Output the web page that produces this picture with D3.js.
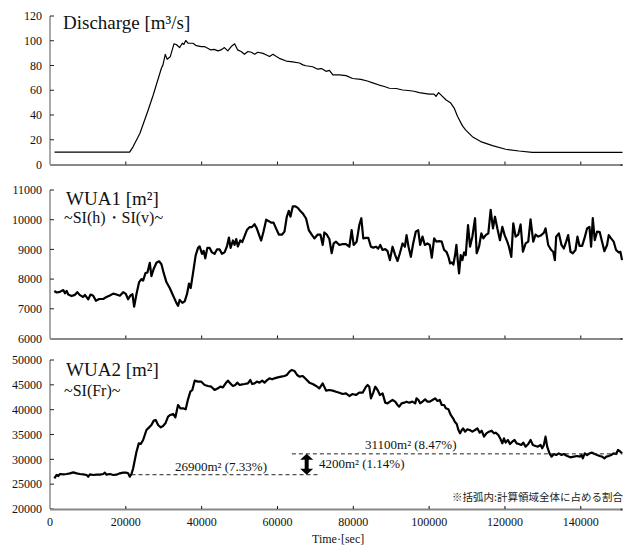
<!DOCTYPE html>
<html><head><meta charset="utf-8">
<script src="https://cdn.jsdelivr.net/npm/d3@7"></script>
<style>
html,body{margin:0;padding:0;background:#fff;}
svg{display:block;}
</style></head>
<body>
<svg id="c" width="629" height="547"></svg>
<script>
// ---------- DATA ----------
const xTicks = [20000, 40000, 60000, 80000, 100000, 120000, 140000];
const xTickLabels = [0, 20000, 40000, 60000, 80000, 100000, 120000, 140000];
const qTicks = [0, 20, 40, 60, 80, 100, 120];
const w1Ticks = [6000, 7000, 8000, 9000, 10000, 11000];
const w2Ticks = [20000, 25000, 30000, 35000, 40000, 45000, 50000];

// Discharge [m3/s]: [time sec, value]
const discharge = [[1200,10],[21000,10],[21900,14.3],[23700,25],[25900,44],[27200,56],[29400,78],[29800,80.5],[30400,89],[30900,85],[31700,87],[32700,97.5],[33300,97],[34200,94.5],[34900,98],[35300,97],[35800,100.2],[36400,98],[37700,98],[38600,96],[39900,95.3],[40700,95.3],[41600,94],[42400,92.6],[43300,93],[44300,91.8],[45100,92.6],[46000,94.5],[46900,91.8],[47800,95.3],[48700,97.5],[49500,92.6],[50400,91.3],[51300,89.1],[52200,91.3],[53100,90.7],[54000,89.1],[54800,90.7],[56200,89.8],[57100,88.5],[57900,87.2],[58800,89],[59700,87.2],[60500,85.8],[62300,83.6],[64000,83],[65800,82],[66700,80.5],[67500,79.8],[69300,79],[70600,77],[71600,77.5],[72800,75.3],[73700,76],[74600,72.4],[76300,72.4],[78100,71.8],[79800,69.5],[82000,68.8],[83700,67.5],[85300,65.8],[86800,64.2],[88200,63],[89500,61.6],[91300,61.4],[93000,60.2],[94500,59.8],[96000,59.2],[97400,58.1],[98700,57.5],[100000,56.8],[101300,56.8],[101800,55],[102500,58.1],[103500,55],[104400,52.3],[105700,49.6],[106600,45.6],[107500,38.8],[108800,31.2],[109600,28],[111400,22.5],[113600,18.5],[116700,15.2],[120200,12.3],[123700,10.9],[127200,9.8],[151000,9.8]];

// WUA1 [m2]
const wua1 = [[1140,7600],[1750,7550],[2630,7570],[3510,7630],[3950,7520],[4390,7600],[4820,7480],[5700,7430],[6580,7470],[7190,7560],[7890,7460],[8770,7400],[9210,7470],[10090,7320],[10700,7480],[11400,7440],[12110,7270],[12980,7330],[14040,7330],[14910,7400],[15790,7450],[16670,7510],[17540,7480],[18420,7440],[19300,7560],[20000,7500],[20610,7320],[21230,7450],[21750,7490],[22190,7070],[22810,7500],[23510,7900],[24120,8000],[24560,7950],[25180,8200],[25700,8220],[26320,8550],[26750,8100],[27370,8350],[28070,8550],[28770,8600],[29390,8500],[30000,8200],[30700,7900],[31580,7700],[32460,7450],[33330,7200],[33770,7100],[34210,7300],[34910,7200],[35530,7250],[36140,7500],[36670,7850],[37110,7700],[37720,8200],[38420,8800],[39040,9050],[39470,9100],[40090,8850],[40530,8950],[40960,8700],[41490,9050],[42110,9050],[42720,8900],[43420,8850],[44040,9000],[44740,9000],[45350,8850],[46050,8900],[46670,9100],[47190,9400],[47630,9050],[48250,9300],[48680,9150],[49120,9350],[49560,9100],[50180,9300],[50700,9250],[51320,9450],[51930,9650],[52630,9750],[53250,9750],[53950,9850],[54560,9700],[55260,9450],[55700,9300],[56320,9600],[57020,10000],[57720,9950],[58330,9900],[58950,9900],[59650,9700],[60350,9500],[61230,9500],[61840,9600],[62460,10100],[62980,10300],[63420,10100],[64040,10450],[64740,10450],[65350,10400],
[65790,10330],[66670,10210],[67540,10040],[68250,9650],[69120,9480],[69740,9370],[70610,9500],[71320,9500],[71930,9150],[72370,9570],[72980,9500],[73680,9350],[74300,8870],[74820,9200],[75440,9260],[76320,9150],[77190,9180],[78070,9180],[78950,9090],[79560,9650],[80090,9150],[80880,9260],[81580,9820],[82110,10050],[82630,9370],[83330,9390],[83950,9390],[84650,9090],[85260,9060],[85960,9090],[86580,9030],[87110,9150],[87720,8980],[88420,9010],[89040,8940],[89650,8640],[90350,9090],[91050,8810],[91670,8610],[92280,8870],[92980,9200],[93600,9090],[94040,9480],[94560,9090],[95180,8750],[95790,9200],[96490,9600],[97110,9650],[97630,9150],[98250,9430],[98860,9150],[99560,9200],[100180,9150],[100700,8720],[101320,9370],[101930,9260],[102630,9280],[103330,9260],[103950,8980],[104560,8920],[105090,8750],[105530,8530],[105970,8560],[106400,8490],[106840,8810],[107190,9150],[107540,8640],[107890,8190],[108330,8810],[108770,8640],[109210,8900],[109650,8810],[110260,9820],[110790,9090],[111400,9430],[112110,10050],[112540,8870],[113160,9090],[113770,9540],[114300,9370],[114910,9480],[115610,9540],[116230,10330],[116840,9710],[117370,10100],[117980,9710],[118680,9310],[119300,9760],[119910,9480],[120610,9260],[121050,9090],[121670,8750],[122190,9880],[122810,9430],[123510,9500],[124120,9840],[124740,8920],[125440,9200],[126140,9260],[126750,10010],[127460,9260],[128070,9500],[128770,9430],[129560,9480],[130260,9560],[130700,9710],[131400,9150],[132190,8980],[132720,8920],[133160,8640],[133510,9430],[134210,9540],[134910,9150],[135530,9030],[136140,9260],[136670,9480],[137280,8920],[137890,8870],[138600,8980],[139120,9430],[139650,9120],[140350,9120],[140960,9370],[141670,9710],[142280,9760],[142720,9090],[143160,10050],[143680,9310],[144300,9600],[145000,9580],[145610,9260],[146230,8940],[146930,9150],[147370,9480],[147980,9370],[148680,9260],[149300,8980],[150000,8900],[150440,8920],[150880,8640]];

// WUA2 [m2]
const wua2 = [[1140,26170],[1750,26850],[2190,26640],[2630,27050],[3510,26980],[4390,27050],[5260,27180],[6140,27380],[7020,27180],[7890,27050],[8770,26980],[9650,26850],[10090,26510],[10530,26980],[11400,26850],[12280,26910],[13160,26910],[14040,27050],[14470,27320],[14910,26910],[15790,27050],[16670,26850],[17540,26910],[18420,27180],[19300,27320],[20180,27320],[20610,27180],[21050,26510],[21490,27050],[21930,28190],[22370,29870],[22810,31540],[23420,33220],[23950,33090],[24560,33890],[25000,34900],[25440,35910],[26140,36440],[26750,36910],[27370,37790],[27890,37920],[28510,36910],[29210,36440],[29820,36710],[30440,37250],[31140,38590],[31750,38930],[32460,39130],[33070,38460],[33770,40940],[34390,40270],[35090,40270],[35790,40070],[36400,42080],[37020,43620],[37540,43960],[38160,45840],[39040,45640],[39910,45640],[40790,44970],[41670,44770],[42540,44630],[43420,43960],[44300,44300],[44910,44630],[45610,44500],[46320,45300],[46930,45840],[47540,45300],[48250,44770],[48860,44970],[49390,45440],[50000,44970],[50700,45100],[51320,45170],[52190,45300],[52810,45970],[53330,45170],[53950,45300],[54560,45640],[55260,45440],[55970,45840],[56580,45440],[57280,45970],[57890,46310],[58600,46110],[59210,46310],[60090,46510],[60970,46640],[61840,46780],[62460,46980],[63160,47650],[63770,47990],[64470,47790],[65180,46980],[65790,46640],
[66670,46780],[67540,46110],[68420,45440],[69300,45170],[70180,44770],[71050,44300],[71930,45300],[72810,43830],[73680,43960],[74560,43830],[75440,43620],[76320,43420],[77190,43150],[78070,43290],[78950,42750],[79820,43150],[80700,42950],[81580,43420],[82460,43420],[83330,44630],[83770,44970],[84210,44630],[84650,42280],[85260,43420],[85790,44630],[86400,43960],[87020,42950],[87720,43290],[88420,41410],[89040,41270],[89650,41610],[90350,41950],[91050,41610],[91670,40940],[92110,40600],[92720,41270],[93420,41410],[94040,41610],[94740,41410],[95610,41610],[96320,41270],[96670,42280],[97190,41950],[97630,41270],[98250,41610],[98950,42080],[99560,41610],[100180,41610],[100880,41950],[101580,42280],[102190,41750],[102810,41950],[103330,40940],[103950,40940],[104390,40270],[105090,40070],[105700,38930],[106320,38260],[106760,37580],[107280,37110],[107720,35910],[108160,35230],[108510,35770],[108950,36240],[109470,35570],[110090,36040],[110700,35910],[111400,35570],[112110,35910],[112720,36240],[113330,35370],[113860,35770],[114470,34560],[115090,35230],[115790,35570],[116490,35770],[117110,35230],[117540,35370],[118250,34900],[118860,34030],[119300,33220],[119740,34230],[120180,33360],[120790,33890],[121320,33090],[121930,33560],[122540,33890],[123070,33220],[123680,33090],[124300,32890],[124820,33360],[125440,32550],[126140,33090],[126750,33890],[127370,32890],[128070,32680],[128680,32550],[129390,32890],[129820,32210],[130260,32890],[130700,34560],[131140,32550],[131750,31210],[132280,30540],[132890,31070],[133510,30870],[134210,31210],[134910,30870],[135530,31070],[136400,30670],[137280,30400],[138160,30540],[139040,30670],[139740,30540],[140180,30870],[140530,30200],[141050,31210],[141670,30870],[142280,31210],[142980,31340],[143680,31070],[144300,30870],[145000,30670],[145610,30540],[146230,30200],[146750,30540],[147370,30670],[147980,30870],[148680,31210],[149300,31070],[149820,31880],[150440,31540],[150880,31210]];

// annotations
const baseLevel = 26900, baseLabel = "26900m² (7.33%)", baseRange = [21500, 71200];
const peakLevel = 31100, peakLabel = "31100m² (8.47%)", peakRange = [63800, 151000];
const diffLabel = "4200m² (1.14%)", arrowTime = 67700;

// ---------- DRAW ----------
const svg = d3.select("#c");
const serif = "'Liberation Serif','Times New Roman',serif";
const x = d3.scaleLinear().domain([0, 151000]).range([50, 622.5]);

const panels = [
  {data: discharge, y: d3.scaleLinear().domain([0,120]).range([164.5,16]), ticks: qTicks, lw: 1.2},
  {data: wua1, y: d3.scaleLinear().domain([6000,11000]).range([338.5,190]), ticks: w1Ticks, lw: 2.2},
  {data: wua2, y: d3.scaleLinear().domain([20000,50000]).range([509,360]), ticks: w2Ticks, lw: 2.2}
];

panels.forEach((p, i) => {
  const g = svg.append("g");
  const [y0, y1] = p.y.range();
  // y axis
  g.append("line").attr("x1", 50).attr("x2", 50).attr("y1", y1).attr("y2", y0)
    .attr("stroke", "#555").attr("stroke-width", 1);
  p.ticks.forEach(t => {
    g.append("line").attr("x1", 50).attr("x2", 54).attr("y1", p.y(t)).attr("y2", p.y(t))
      .attr("stroke", "#222").attr("stroke-width", 1);
    g.append("text").attr("x", 42).attr("y", p.y(t)).attr("dy", "0.35em")
      .attr("text-anchor", "end").attr("font-family", serif).attr("font-size", 12)
      .attr("fill", "#111").text(t);
  });
  // x axis
  g.append("line").attr("x1", 50).attr("x2", x(151000)).attr("y1", y0 + 0.5).attr("y2", y0 + 0.5)
    .attr("stroke", "#888").attr("stroke-width", 2);
  xTicks.forEach(t => {
    g.append("line").attr("x1", x(t)).attr("x2", x(t)).attr("y1", y0 - 3).attr("y2", y0)
      .attr("stroke", "#111").attr("stroke-width", 1);
  });
  g.append("rect").attr("x", x(151000) - 2).attr("y", y0 - 0.5).attr("width", 2).attr("height", 2).attr("fill", "#444");
  // line
  const line = d3.line().x(d => x(d[0])).y(d => p.y(d[1]));
  g.append("path").datum(p.data).attr("d", line).attr("fill", "none")
    .attr("stroke", "#000").attr("stroke-width", p.lw).attr("stroke-linejoin", "round");
});

// x tick labels on bottom
xTickLabels.forEach(t => {
  svg.append("text").attr("x", x(t)).attr("y", 526).attr("text-anchor", "middle")
    .attr("font-family", serif).attr("font-size", 12).attr("fill", "#111").text(t);
});
svg.append("text").attr("x", 312).attr("y", 543).attr("font-family", serif)
  .attr("font-size", 12).attr("fill", "#111").text("Time·[sec]");

// titles
const title = (tx, ty, s, fs) => svg.append("text").attr("x", tx).attr("y", ty)
  .attr("font-family", serif).attr("font-size", fs).attr("fill", "#111").text(s);
title(63, 28.5, "Discharge [m³/s]", 19);
title(66, 205, "WUA1 [m²]", 19);
title(64, 223, "~SI(h)・SI(v)~", 16);
title(66, 376, "WUA2 [m²]", 19);
title(64, 396, "~SI(Fr)~", 16);

// annotations on bottom panel
const yb = panels[2].y;
[[baseLevel, baseRange], [peakLevel, peakRange]].forEach(([lv, r]) => {
  svg.append("line").attr("x1", x(r[0])).attr("x2", x(r[1])).attr("y1", yb(lv)).attr("y2", yb(lv))
    .attr("stroke", "#222").attr("stroke-width", 1).attr("stroke-dasharray", "4,3");
});
svg.append("text").attr("x", 175).attr("y", 471).attr("font-family", serif).attr("font-size", 13)
  .attr("fill", "#111").text(baseLabel);
svg.append("text").attr("x", 365).attr("y", 449).attr("font-family", serif).attr("font-size", 13)
  .attr("fill", "#111").text(peakLabel);
svg.append("text").attr("x", 319).attr("y", 468).attr("font-family", serif).attr("font-size", 13)
  .attr("fill", "#111").text(diffLabel);

// double arrow
const ax = x(arrowTime), ayTop = yb(peakLevel), ayBot = yb(baseLevel);
svg.append("line").attr("x1", ax).attr("x2", ax).attr("y1", ayTop + 4).attr("y2", ayBot - 4)
  .attr("stroke", "#000").attr("stroke-width", 4);
svg.append("path").attr("d", `M${ax-6.5},${ayTop+6} L${ax+6.5},${ayTop+6} L${ax},${ayTop} Z`).attr("fill", "#000");
svg.append("path").attr("d", `M${ax-6.5},${ayBot-6} L${ax+6.5},${ayBot-6} L${ax},${ayBot} Z`).attr("fill", "#000");

// note
svg.append("text").attr("x", 623).attr("y", 501).attr("text-anchor", "end")
  .attr("font-family", "'Noto Sans CJK JP',sans-serif").attr("font-size", 10.5)
  .attr("fill", "#222").text("※括弧内:計算領域全体に占める割合");
</script>
</body></html>
